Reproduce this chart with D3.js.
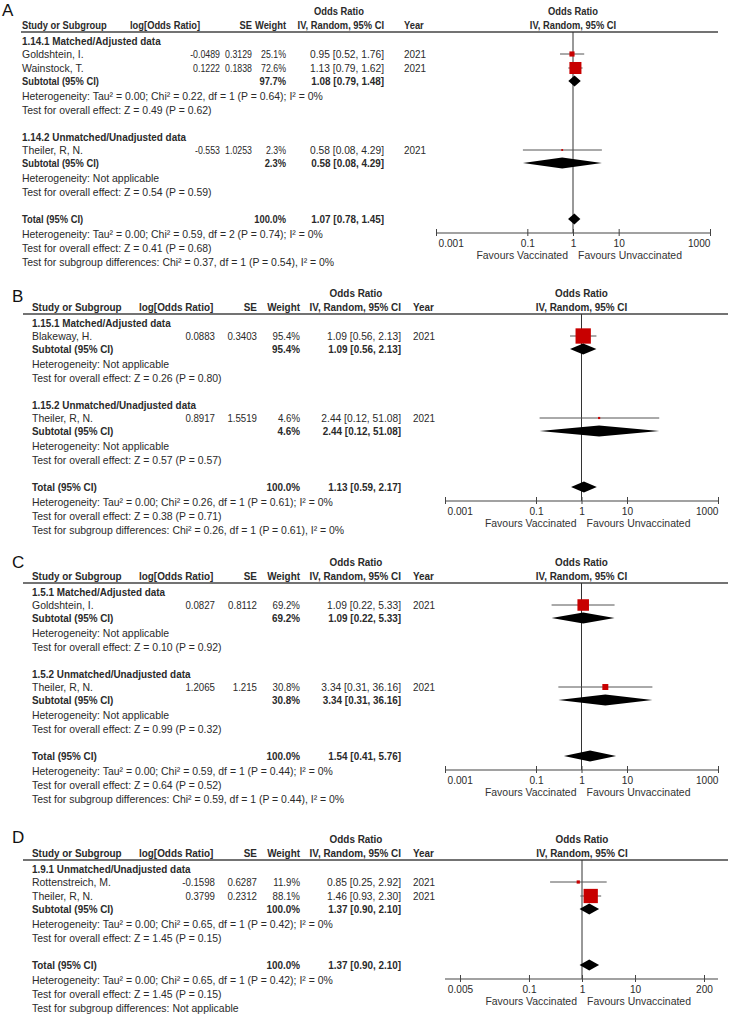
<!DOCTYPE html>
<html><head><meta charset="utf-8">
<script src="https://cdn.jsdelivr.net/npm/d3@7"></script>
<style>
body{margin:0;background:#fff}
svg{display:block}
text{font-family:"Liberation Sans",Arial,sans-serif;}
</style>
</head><body>
<script>
// ---------- Panel A data ----------
const studyA = ["Goldshtein, I.", "Wainstock, T.", "Theiler, R, N."];
const groupA = [0, 0, 1];
const logOrA = [-0.0489, 0.1222, -0.553];
const seA = [0.3129, 0.1838, 1.0253];
const weightA = [25.1, 72.6, 2.3];
const orA = [0.95, 1.13, 0.58];
const loA = [0.52, 0.79, 0.08];
const hiA = [1.76, 1.62, 4.29];
const yearA = [2021, 2021, 2021];
const subNameA = ["1.14.1 Matched/Adjusted data", "1.14.2 Unmatched/Unadjusted data"];
const subWeightA = [97.7, 2.3];
const subOrA = [1.08, 0.58];
const subLoA = [0.79, 0.08];
const subHiA = [1.48, 4.29];
const subHetA = ["Heterogeneity: Tau² = 0.00; Chi² = 0.22, df = 1 (P = 0.64); I² = 0%", "Heterogeneity: Not applicable"];
const subTestA = ["Test for overall effect: Z = 0.49 (P = 0.62)", "Test for overall effect: Z = 0.54 (P = 0.59)"];
const totalA = [1.07, 0.78, 1.45];
const totalTextA = ["Heterogeneity: Tau² = 0.00; Chi² = 0.59, df = 2 (P = 0.74); I² = 0%", "Test for overall effect: Z = 0.41 (P = 0.68)", "Test for subgroup differences: Chi² = 0.37, df = 1 (P = 0.54), I² = 0%"];
const ticksA = [0.001, 0.1, 1, 10, 1000];

// ---------- Panel B data ----------
const studyB = ["Blakeway, H.", "Theiler, R, N."];
const groupB = [0, 1];
const logOrB = [0.0883, 0.8917];
const seB = [0.3403, 1.5519];
const weightB = [95.4, 4.6];
const orB = [1.09, 2.44];
const loB = [0.56, 0.12];
const hiB = [2.13, 51.08];
const yearB = [2021, 2021];
const subNameB = ["1.15.1 Matched/Adjusted data", "1.15.2 Unmatched/Unadjusted data"];
const subWeightB = [95.4, 4.6];
const subOrB = [1.09, 2.44];
const subLoB = [0.56, 0.12];
const subHiB = [2.13, 51.08];
const subHetB = ["Heterogeneity: Not applicable", "Heterogeneity: Not applicable"];
const subTestB = ["Test for overall effect: Z = 0.26 (P = 0.80)", "Test for overall effect: Z = 0.57 (P = 0.57)"];
const totalB = [1.13, 0.59, 2.17];
const totalTextB = ["Heterogeneity: Tau² = 0.00; Chi² = 0.26, df = 1 (P = 0.61); I² = 0%", "Test for overall effect: Z = 0.38 (P = 0.71)", "Test for subgroup differences: Chi² = 0.26, df = 1 (P = 0.61), I² = 0%"];
const ticksB = [0.001, 0.1, 1, 10, 1000];

// ---------- Panel C data ----------
const studyC = ["Goldshtein, I.", "Theiler, R, N."];
const groupC = [0, 1];
const logOrC = [0.0827, 1.2065];
const seC = [0.8112, 1.215];
const weightC = [69.2, 30.8];
const orC = [1.09, 3.34];
const loC = [0.22, 0.31];
const hiC = [5.33, 36.16];
const yearC = [2021, 2021];
const subNameC = ["1.5.1 Matched/Adjusted data", "1.5.2 Unmatched/Unadjusted data"];
const subWeightC = [69.2, 30.8];
const subOrC = [1.09, 3.34];
const subLoC = [0.22, 0.31];
const subHiC = [5.33, 36.16];
const subHetC = ["Heterogeneity: Not applicable", "Heterogeneity: Not applicable"];
const subTestC = ["Test for overall effect: Z = 0.10 (P = 0.92)", "Test for overall effect: Z = 0.99 (P = 0.32)"];
const totalC = [1.54, 0.41, 5.76];
const totalTextC = ["Heterogeneity: Tau² = 0.00; Chi² = 0.59, df = 1 (P = 0.44); I² = 0%", "Test for overall effect: Z = 0.64 (P = 0.52)", "Test for subgroup differences: Chi² = 0.59, df = 1 (P = 0.44), I² = 0%"];
const ticksC = [0.001, 0.1, 1, 10, 1000];

// ---------- Panel D data ----------
const studyD = ["Rottenstreich, M.", "Theiler, R, N."];
const groupD = [0, 0];
const logOrD = [-0.1598, 0.3799];
const seD = [0.6287, 0.2312];
const weightD = [11.9, 88.1];
const orD = [0.85, 1.46];
const loD = [0.25, 0.93];
const hiD = [2.92, 2.30];
const yearD = [2021, 2021];
const subNameD = ["1.9.1 Unmatched/Unadjusted data"];
const subWeightD = [100.0];
const subOrD = [1.37];
const subLoD = [0.90];
const subHiD = [2.10];
const subHetD = ["Heterogeneity: Tau² = 0.00; Chi² = 0.65, df = 1 (P = 0.42); I² = 0%"];
const subTestD = ["Test for overall effect: Z = 1.45 (P = 0.15)"];
const totalD = [1.37, 0.90, 2.10];
const totalTextD = ["Heterogeneity: Tau² = 0.00; Chi² = 0.65, df = 1 (P = 0.42); I² = 0%", "Test for overall effect: Z = 1.45 (P = 0.15)", "Test for subgroup differences: Not applicable"];
const ticksD = [0.005, 0.1, 1, 10, 200];

// ---------- layout (positions only) ----------
const layoutA = {letter:"A", L:32, labelX:2, labelY:10, line:[21,718], cStudy:22, cLogHead:130, cLog:220, cSe:252, cW:286, cCi:384, cYear:404, range:[436,710], extent:[436,710], endAnchor:true, sqBold:0.85, sqNum:0.8};
const layoutB = {letter:"B", L:314, labelX:12, labelY:296, line:[23,728], cStudy:32, cLogHead:139, cLog:215, cSe:257, cW:300, cCi:401, cYear:413, range:[445,718], extent:[445,718], endAnchor:true, sqBold:0.9, sqNum:0.88};
const layoutC = {letter:"C", L:583, labelX:12, labelY:562, line:[23,728], cStudy:32, cLogHead:139, cLog:215, cSe:257, cW:300, cCi:401, cYear:413, range:[445,718], extent:[445,718], endAnchor:true, sqBold:0.9, sqNum:0.88};
const layoutD = {letter:"D", L:860, labelX:12, labelY:837, line:[23,728], cStudy:32, cLogHead:139, cLog:215, cSe:257, cW:300, cCi:401, cYear:413, range:[460,704], extent:[445,718], endAnchor:false, sqBold:0.9, sqNum:0.88};

function makePanel(layout, names, group, logOr, se, wt, or, lo, hi, year, subName, subW, subOr, subLo, subHi, subHet, subTest, total, totalText, ticks) {
  return {layout, ticks, total, totalText,
    subgroups: subName.map((nm, g) => ({
      name: nm, weight: subW[g], or: subOr[g], lo: subLo[g], hi: subHi[g], het: subHet[g], test: subTest[g],
      studies: names.map((n, i) => ({name:n, g:group[i], logOr:logOr[i], se:se[i], wt:wt[i], or:or[i], lo:lo[i], hi:hi[i], year:year[i]})).filter(s => s.g === g)
    }))
  };
}

const panels = [
  makePanel(layoutA, studyA, groupA, logOrA, seA, weightA, orA, loA, hiA, yearA, subNameA, subWeightA, subOrA, subLoA, subHiA, subHetA, subTestA, totalA, totalTextA, ticksA),
  makePanel(layoutB, studyB, groupB, logOrB, seB, weightB, orB, loB, hiB, yearB, subNameB, subWeightB, subOrB, subLoB, subHiB, subHetB, subTestB, totalB, totalTextB, ticksB),
  makePanel(layoutC, studyC, groupC, logOrC, seC, weightC, orC, loC, hiC, yearC, subNameC, subWeightC, subOrC, subLoC, subHiC, subHetC, subTestC, totalC, totalTextC, ticksC),
  makePanel(layoutD, studyD, groupD, logOrD, seD, weightD, orD, loD, hiD, yearD, subNameD, subWeightD, subOrD, subLoD, subHiD, subHetD, subTestD, totalD, totalTextD, ticksD)
];

const W = 729, H = 1015;
const svg = d3.select("body").append("svg").attr("width", W).attr("height", H);
svg.append("rect").attr("width", W).attr("height", H).attr("fill", "#fff");

const FS = 11;
const TXT = "#2a2a2a";
const RED = "#c80000";
const sizeScale = d3.scaleLinear().domain([0, 100]).range([1.5, 16]);
const fmt2 = d3.format(".2f");
const fmt1 = d3.format(".1f");

function squeeze(node, f) {
  const w = node.getComputedTextLength();
  node.setAttribute("textLength", (w * f).toFixed(2));
  node.setAttribute("lengthAdjust", "spacingAndGlyphs");
}

function txt(g, x, y, s, opt = {}) {
  const t = g.append("text").attr("x", x).attr("y", y).attr("dy", "0.36em")
    .attr("font-size", opt.size || FS).attr("font-weight", opt.bold ? "bold" : "normal")
    .attr("text-anchor", opt.anchor || "start").attr("fill", opt.fill || TXT).text(s);
  const f = opt.sq != null ? opt.sq : (opt.bold ? 0.9 : 0.95);
  squeeze(t.node(), f);
  return t;
}

panels.forEach(p => {
  const ly = p.layout;
  const g = svg.append("g");
  const x = d3.scaleLog().domain([p.ticks[0], p.ticks[p.ticks.length - 1]]).range(ly.range);
  const L = ly.L;
  const B = {bold:true, sq:ly.sqBold};

  // panel letter
  g.append("text").attr("x", ly.labelX).attr("y", ly.labelY).attr("dy", "0.36em")
    .attr("font-family", "Liberation Serif, Times New Roman, serif").attr("font-size", 17).attr("fill", "#111").text(ly.letter);

  // headers
  const x1 = x(1);
  txt(g, ly.cCi - 45, L - 21, "Odds Ratio", {...B, anchor:"middle"});
  txt(g, x1, L - 21, "Odds Ratio", {...B, anchor:"middle"});
  txt(g, ly.cStudy, L - 7, "Study or Subgroup", B);
  txt(g, ly.cLogHead, L - 7, "log[Odds Ratio]", B);
  txt(g, ly.cSe, L - 7, "SE", {...B, anchor:"end"});
  txt(g, ly.cW, L - 7, "Weight", {...B, anchor:"end"});
  txt(g, ly.cCi, L - 7, "IV, Random, 95% CI", {...B, anchor:"end"});
  txt(g, ly.cYear, L - 7, "Year", B);
  txt(g, x1, L - 7, "IV, Random, 95% CI", {...B, anchor:"middle"});
  g.append("line").attr("x1", ly.line[0]).attr("x2", ly.line[1]).attr("y1", L).attr("y2", L)
    .attr("stroke", "#444").attr("stroke-width", 1.3);

  // rows
  let y = L + 9;
  const studyRows = [], diamonds = [];
  p.subgroups.forEach((sg, gi) => {
    if (gi > 0) y += 27;
    txt(g, ly.cStudy, y, sg.name, {bold:true, sq:0.9});
    y += 13;
    sg.studies.forEach((s, si) => {
      if (si > 0) y += 14;
      txt(g, ly.cStudy, y, s.name);
      txt(g, ly.cLog, y, String(s.logOr), {anchor:"end", sq:ly.sqNum});
      txt(g, ly.cSe, y, String(s.se), {anchor:"end", sq:ly.sqNum});
      txt(g, ly.cW, y, fmt1(s.wt) + "%", {anchor:"end", sq:ly.sqNum});
      txt(g, ly.cCi, y, `${fmt2(s.or)} [${fmt2(s.lo)}, ${fmt2(s.hi)}]`, {anchor:"end", sq:0.93});
      txt(g, ly.cYear, y, String(s.year), {sq:0.9});
      studyRows.push({y, s});
    });
    y += 13;
    txt(g, ly.cStudy, y, "Subtotal (95% CI)", B);
    txt(g, ly.cW, y, fmt1(sg.weight) + "%", {...B, anchor:"end"});
    txt(g, ly.cCi, y, `${fmt2(sg.or)} [${fmt2(sg.lo)}, ${fmt2(sg.hi)}]`, {bold:true, sq:0.9, anchor:"end"});
    diamonds.push({y, or:sg.or, lo:sg.lo, hi:sg.hi});
    y += 15;
    txt(g, ly.cStudy, y, sg.het);
    y += 14;
    txt(g, ly.cStudy, y, sg.test);
  });
  y += 27;
  const totalY = y;
  txt(g, ly.cStudy, y, "Total (95% CI)", B);
  txt(g, ly.cW, y, "100.0%", {...B, anchor:"end"});
  txt(g, ly.cCi, y, `${fmt2(p.total[0])} [${fmt2(p.total[1])}, ${fmt2(p.total[2])}]`, {bold:true, sq:0.9, anchor:"end"});
  diamonds.push({y, or:p.total[0], lo:p.total[1], hi:p.total[2]});
  y += 15; txt(g, ly.cStudy, y, p.totalText[0]);
  y += 14; txt(g, ly.cStudy, y, p.totalText[1]);
  y += 14; txt(g, ly.cStudy, y, p.totalText[2]);

  const axisY = totalY + 14;

  // null line
  g.append("line").attr("x1", x1).attr("x2", x1).attr("y1", L).attr("y2", axisY)
    .attr("stroke", "#333").attr("stroke-width", 1);

  // study CIs and squares
  studyRows.forEach(r => {
    g.append("line").attr("x1", x(r.s.lo)).attr("x2", x(r.s.hi)).attr("y1", r.y).attr("y2", r.y)
      .attr("stroke", "#555").attr("stroke-width", 1);
    const sz = sizeScale(r.s.wt);
    g.append("rect").attr("x", x(r.s.or) - sz / 2).attr("y", r.y - sz / 2).attr("width", sz).attr("height", sz)
      .attr("fill", RED);
  });
  // diamonds
  diamonds.forEach(d => {
    const h = 5.5;
    g.append("path").attr("d", `M${x(d.lo)},${d.y}L${x(d.or)},${d.y - h}L${x(d.hi)},${d.y}L${x(d.or)},${d.y + h}Z`)
      .attr("fill", "#000");
  });

  // axis
  const ax = g.append("g").attr("transform", `translate(0,${axisY})`)
    .call(d3.axisBottom(x).tickValues(p.ticks).tickFormat(v => String(v)).tickSizeOuter(0).tickSize(4));
  ax.select(".domain").remove();
  ax.append("line").attr("x1", ly.extent[0]).attr("x2", ly.extent[1]).attr("y1", 0).attr("y2", 0)
    .attr("stroke", "#444").attr("stroke-width", 1.2);
  ax.selectAll(".tick line").attr("y1", -4).attr("y2", 3).attr("stroke", "#444");
  ax.selectAll(".tick text").attr("y", 10).attr("dy", "0.36em").attr("font-size", FS)
    .attr("font-family", "Liberation Sans, Arial, sans-serif").attr("fill", TXT)
    .each(function () { squeeze(this, 0.92); });
  if (ly.endAnchor) {
    const tt = ax.selectAll(".tick text").nodes();
    d3.select(tt[0]).attr("text-anchor", "start").attr("x", 2);
    d3.select(tt[tt.length - 1]).attr("text-anchor", "end").attr("x", 0);
  }
  txt(g, x1 - 5, axisY + 22, "Favours Vaccinated", {anchor:"end", fill:"#333"});
  txt(g, x1 + 5, axisY + 22, "Favours Unvaccinated", {fill:"#333"});
});
</script>
</body></html>
